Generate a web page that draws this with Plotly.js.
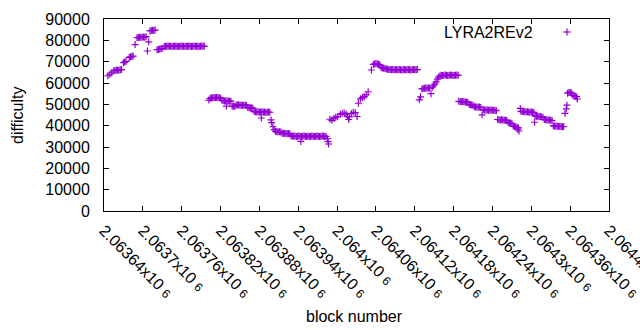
<!DOCTYPE html>
<html>
<head>
<meta charset="utf-8">
<script src="https://cdn.plot.ly/plotly-3.0.1.min.js"></script>
<style>html,body{margin:0;padding:0;background:#fff;}#chart{width:640px;height:330px;overflow:hidden;}</style>
</head>
<body>
<div id="chart"></div>
<script>
const seriesName = "LYRA2REv2";
const blocks = [
  2063646, 2063649, 2063652, 2063655, 2063657, 2063659, 2063661, 2063663, 2063665, 2063667,
  2063670, 2063672, 2063674, 2063679, 2063681, 2063683, 2063685, 2063688,
  2063691, 2063693, 2063695, 2063697, 2063699, 2063701, 2063703, 2063705, 2063707, 2063709,
  2063711, 2063713, 2063715, 2063717, 2063719, 2063722, 2063724, 2063726, 2063728, 2063730,
  2063733, 2063735, 2063737, 2063739, 2063741, 2063743, 2063745, 2063747, 2063749, 2063751,
  2063753, 2063755, 2063757, 2063759, 2063761, 2063763, 2063765, 2063767, 2063769, 2063771,
  2063773, 2063775, 2063777, 2063779, 2063781, 2063783, 2063785, 2063787, 2063789, 2063791,
  2063793, 2063795,
  2063802, 2063804, 2063806, 2063808, 2063810, 2063812, 2063814, 2063816, 2063818, 2063820,
  2063822, 2063824, 2063826, 2063828, 2063829, 2063830, 2063832, 2063834, 2063836,
  2063838, 2063840, 2063842,
  2063844, 2063846, 2063848, 2063850, 2063852, 2063854, 2063856, 2063858, 2063860,
  2063862, 2063864, 2063866, 2063868, 2063870,
  2063872, 2063874, 2063876, 2063878, 2063880, 2063882, 2063883, 2063884, 2063886, 2063888,
  2063890, 2063892, 2063894, 2063896,
  2063898, 2063899, 2063901, 2063903,
  2063905, 2063907, 2063909, 2063911, 2063913,
  2063915, 2063917, 2063919, 2063921, 2063923, 2063925, 2063927,
  2063929, 2063931, 2063933, 2063935, 2063937, 2063939, 2063941, 2063943, 2063944, 2063945,
  2063947, 2063949, 2063951, 2063953, 2063955, 2063957, 2063959, 2063961, 2063963, 2063965,
  2063967, 2063969, 2063971, 2063973, 2063975, 2063977, 2063979, 2063981, 2063983,
  2063985, 2063986, 2063987,
  2063989, 2063992, 2063995, 2063998, 2064001, 2064005, 2064008, 2064011, 2064014, 2064016,
  2064018, 2064019, 2064022, 2064025, 2064028, 2064031, 2064033, 2064036, 2064039, 2064042,
  2064045, 2064048,
  2064053, 2064056, 2064058, 2064060, 2064062, 2064064, 2064066,
  2064068, 2064070, 2064072, 2064074, 2064076,
  2064078, 2064080, 2064082, 2064084, 2064086, 2064088, 2064090, 2064092, 2064094, 2064096,
  2064098, 2064100, 2064102, 2064104, 2064106, 2064108, 2064110, 2064112, 2064114, 2064116,
  2064118, 2064120, 2064122, 2064124,
  2064127, 2064129,
  2064131, 2064133, 2064135, 2064137, 2064139, 2064141, 2064143, 2064145,
  2064147, 2064149, 2064151, 2064153, 2064155, 2064157,
  2064159, 2064161, 2064163, 2064165, 2064167, 2064169, 2064171, 2064173, 2064175, 2064177,
  2064179, 2064181, 2064183, 2064185, 2064187,
  2064188, 2064190, 2064192, 2064194, 2064196, 2064198, 2064200, 2064202,
  2064204, 2064206, 2064208, 2064210,
  2064212, 2064214, 2064216, 2064218, 2064220, 2064222, 2064224,
  2064226, 2064228, 2064230, 2064232, 2064234, 2064236, 2064238, 2064240, 2064242, 2064244, 2064246,
  2064248, 2064250, 2064252, 2064254, 2064256, 2064258, 2064260, 2064262,
  2064264, 2064266, 2064268, 2064270,
  2064272, 2064274, 2064276, 2064278, 2064280, 2064279, 2064281,
  2064283,
  2064284, 2064286, 2064288, 2064290, 2064292, 2064294, 2064296, 2064298, 2064300, 2064302, 2064304,
  2064305,
  2064306, 2064308, 2064310, 2064312, 2064314, 2064316, 2064318,
  2064320, 2064322, 2064324, 2064326, 2064328, 2064330, 2064332,
  2064334, 2064336, 2064338, 2064340, 2064342, 2064344, 2064346, 2064348, 2064350,
  2064352, 2064354, 2064355,
  2064356, 2064358, 2064360, 2064362,
  2064364, 2064366, 2064368, 2064370, 2064371
];
const difficulty = [
  63400, 64100, 64800, 65700, 65900, 66000, 66100, 66000, 66200, 66300,
  69500, 69800, 70100, 72000, 72300, 72400, 72600, 78000,
  81200, 81300, 81400, 81500, 81400, 81600, 81500, 81700, 75000, 79300,
  84400, 84600, 84700, 84600, 84800, 75600, 75700, 75900, 76000, 76300,
  77100, 77200, 77200, 77300, 77200, 77200, 77100, 77200, 77300, 77200,
  77200, 77100, 77200, 77300, 77200, 77200, 77100, 77200, 77200, 77300,
  77200, 77100, 77200, 77200, 77300, 77200, 77200, 77100, 77200, 77200,
  77300, 77200,
  52000, 52800, 53000, 53100, 53200, 53100, 53200, 53300, 53100, 52900,
  51900, 51800, 51600, 51700, 49200, 51500, 51600, 51400, 51500,
  49100, 49200, 49000,
  49600, 49700, 49800, 49600, 49700, 49500, 49600, 49700, 49500,
  48500, 48400, 48300, 48400, 48200,
  46600, 46500, 46400, 46500, 46300, 46400, 43600, 46500, 46300, 46400,
  46200, 46300, 46400, 46300,
  42700, 41400, 39500, 38100,
  37300, 37200, 37100, 37200, 37000,
  36500, 36400, 36300, 36400, 36200, 36300, 36200,
  35200, 35100, 35000, 35100, 34900, 35000, 35100, 35000, 32600, 34900,
  35000, 35100, 35000, 34900, 35000, 35000, 34900, 35100, 35000, 34900,
  35000, 35100, 35000, 34900, 35000, 35100, 35000, 34900, 35000,
  33900, 32500, 31400,
  43000, 42500, 43400, 44000, 44300, 45300, 45800, 45900, 45400, 44400,
  42900, 44100, 45700, 46300, 46100, 44300, 50500, 52600, 53200, 53600,
  54400, 55900,
  66100, 68700, 68900, 69100, 69000, 68800, 68500,
  67300, 67000, 66900, 66800, 66600,
  66400, 66300, 66300, 66200, 66300, 66200, 66300, 66200, 66200, 66300,
  66200, 66100, 66200, 66300, 66200, 66200, 66300, 66200, 66100, 66200,
  66300, 66200, 66200, 66300,
  52100, 53500,
  57200, 57400, 57500, 57600, 57500, 57700, 57600, 55000,
  58000, 58700, 59500, 60500, 61800, 62800,
  63400, 63600, 63500, 63600, 63700, 63600, 63500, 63600, 63700, 63600,
  63500, 63600, 63600, 63700, 63600,
  51400, 51300, 51200, 51300, 51100, 51200, 51000, 50900,
  49900, 49800, 49700, 49600,
  48900, 48800, 48700, 48600, 48700, 48500, 45100,
  47500, 47400, 47300, 47300, 47200, 47300, 47200, 47300, 47100, 47200, 47000,
  42900, 42800, 42700, 42800, 42600, 42700, 42500, 42400,
  41500, 41300, 41200, 41000,
  39800, 39600, 39400, 39200, 39000, 38300, 37500,
  48100,
  46700, 46600, 46500, 46600, 46400, 46500, 46400, 46300, 46400, 46300, 46200,
  41600,
  44500, 44400, 44300, 44200, 44300, 44100, 44000,
  42900, 42800, 42700, 42600, 42700, 42500, 42400,
  39900, 39800, 39700, 39800, 39600, 39700, 39600, 39500, 39600,
  45800, 47900, 49600,
  55200, 55600, 55700, 55300,
  54200, 53900, 53800, 53600, 52500
];
const xTickVals = [2063640, 2063700, 2063760, 2063820, 2063880, 2063940, 2064000,
  2064060, 2064120, 2064180, 2064240, 2064300, 2064360, 2064420];
const xTickMantissa = ["2.06364", "2.0637", "2.06376", "2.06382", "2.06388", "2.06394", "2.064",
  "2.06406", "2.06412", "2.06418", "2.06424", "2.0643", "2.06436", "2.0644"];
const xTickText = xTickMantissa.map(m => m + "x10 <span style=\"font-size:12px\">6</span>");
const yTickVals = [0, 10000, 20000, 30000, 40000, 50000, 60000, 70000, 80000, 90000];

const purple = "#9400d3";
const font = {family: "Liberation Sans, Arial, sans-serif", size: 16, color: "#000"};

const trace = {
  type: "scatter", mode: "markers", x: blocks, y: difficulty, name: seriesName,
  marker: {symbol: "cross-thin", size: 5, color: purple, line: {color: purple, width: 1.2}},
  showlegend: false, hoverinfo: "skip"
};

// legend sample (gnuplot style: text then symbol)
const lx = (567 - 104) / 505, ly = (211 - 32) / 192;
const dx = 3.6 / 505, dy = 3.6 / 192;

const layout = {
  width: 640, height: 330,
  margin: {l: 104, r: 31, t: 19, b: 119, pad: 0},
  paper_bgcolor: "#fff", plot_bgcolor: "#fff",
  font: font,
  showlegend: false,
  xaxis: {
    range: [2063640, 2064420], tickmode: "array", tickvals: xTickVals, ticktext: xTickText,
    tickangle: 45, ticks: "inside", ticklen: 5, tickcolor: "#000", tickwidth: 1,
    showline: true, linecolor: "#000", linewidth: 1, mirror: "allticks",
    showgrid: false, zeroline: false, tickfont: font, ticklabelstandoff: 3,
    ticklabeloverflow: "allow", automargin: false
  },
  yaxis: {
    range: [0, 90000], tickmode: "array", tickvals: yTickVals, tickformat: "d",
    ticks: "inside", ticklen: 5, tickcolor: "#000", tickwidth: 1,
    showline: true, linecolor: "#000", linewidth: 1, mirror: "allticks",
    showgrid: false, zeroline: false, tickfont: font, ticklabelstandoff: 10
  },
  annotations: [
    {text: "block number", xref: "paper", yref: "paper", x: (354 - 104) / 505, y: (211 - 316) / 192,
     xanchor: "center", yanchor: "middle", showarrow: false, font: font},
    {text: "difficulty", xref: "paper", yref: "paper", x: (17 - 104) / 505, y: (211 - 115) / 192,
     xanchor: "center", yanchor: "middle", textangle: -90, showarrow: false, font: font},
    {text: seriesName, xref: "paper", yref: "paper", x: (535 - 104) / 505, y: ly,
     xanchor: "right", yanchor: "middle", showarrow: false, font: font}
  ],
  shapes: [
    {type: "line", xref: "paper", yref: "paper", x0: lx - dx, x1: lx + dx, y0: ly, y1: ly,
     line: {color: purple, width: 1.2}},
    {type: "line", xref: "paper", yref: "paper", x0: lx, x1: lx, y0: ly - dy, y1: ly + dy,
     line: {color: purple, width: 1.2}}
  ]
};

Plotly.newPlot("chart", [trace], layout, {staticPlot: true, displayModeBar: false});
</script>
</body>
</html>
